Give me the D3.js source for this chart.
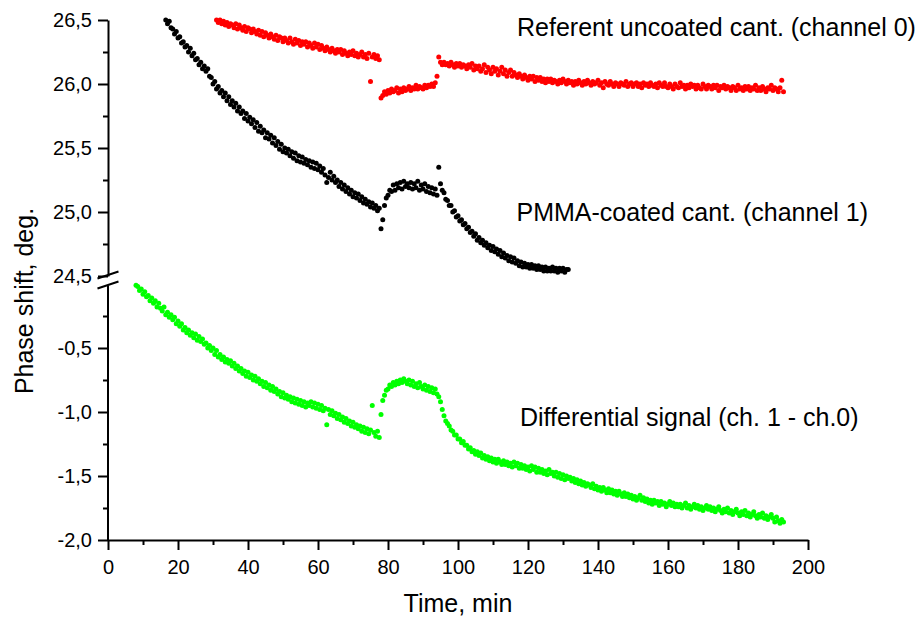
<!DOCTYPE html>
<html>
<head>
<meta charset="utf-8">
<script src="https://cdn.jsdelivr.net/npm/d3@7"></script>
<style>
  html, body { margin: 0; padding: 0; background: #fff; }
  svg { display: block; font-family: "Liberation Sans", Arial, Helvetica, sans-serif; }
</style>
</head>
<body>
<svg id="chart" width="923" height="619"></svg>
<script>
// Phase readings, one sample every 0.5 min
const SAMPLE_STEP = 0.5;

// PMMA-coated cantilever (channel 1), deg.
const ch1Start = 16.5;
const ch1Phase = [
  26.50, 26.47, 26.49, 26.44, 26.43, 26.39, 26.41, 26.36, 26.37, 26.32,
  26.33, 26.29, 26.30, 26.25, 26.28, 26.22, 26.24, 26.19, 26.20, 26.15,
  26.17, 26.12, 26.14, 26.10, 26.12, 26.06, 26.05, 26.00, 26.02, 25.96,
  25.98, 25.93, 25.95, 25.90, 25.93, 25.87, 25.90, 25.84, 25.87, 25.82,
  25.85, 25.79, 25.82, 25.77, 25.79, 25.73, 25.77, 25.71, 25.74, 25.69,
  25.72, 25.66, 25.70, 25.63, 25.67, 25.62, 25.64, 25.58, 25.62, 25.57,
  25.60, 25.54, 25.58, 25.52, 25.55, 25.49, 25.53, 25.47, 25.50, 25.46,
  25.49, 25.44, 25.47, 25.42, 25.46, 25.40, 25.44, 25.39, 25.43, 25.38,
  25.41, 25.37, 25.40, 25.35, 25.39, 25.34, 25.38, 25.33, 25.36, 25.31,
  25.34, 25.29, 25.23, 25.27, 25.31, 25.25, 25.28, 25.23, 25.25, 25.20,
  25.23, 25.18, 25.21, 25.16, 25.19, 25.14, 25.17, 25.12, 25.15, 25.11,
  25.14, 25.09, 25.12, 25.07, 25.10, 25.06, 25.08, 25.04, 25.07, 25.03,
  25.05, 25.01, 25.03, 24.87, 24.94, 25.05, 25.11, 25.13, 25.17, 25.16,
  25.21, 25.17, 25.22, 25.19, 25.23, 25.18, 25.24, 25.20, 25.22, 25.19,
  25.23, 25.18, 25.22, 25.19, 25.24, 25.17, 25.21, 25.18, 25.22, 25.16,
  25.20, 25.15, 25.19, 25.14, 25.18, 25.13, 25.35, 25.22, 25.17, 25.15,
  25.10, 25.09, 25.05, 25.05, 25.00, 25.01, 24.96, 24.97, 24.93, 24.94,
  24.90, 24.91, 24.87, 24.88, 24.84, 24.85, 24.81, 24.83, 24.78, 24.80,
  24.76, 24.78, 24.74, 24.76, 24.72, 24.74, 24.70, 24.73, 24.69, 24.71,
  24.67, 24.70, 24.65, 24.68, 24.64, 24.66, 24.62, 24.65, 24.61, 24.64,
  24.60, 24.62, 24.58, 24.61, 24.57, 24.60, 24.57, 24.59, 24.56, 24.59,
  24.56, 24.58, 24.55, 24.58, 24.55, 24.57, 24.54, 24.57, 24.54, 24.56,
  24.54, 24.57, 24.54, 24.56, 24.53, 24.56, 24.54, 24.56, 24.53, 24.55,
  24.55
];

// Referent uncoated cantilever (channel 0), deg.
const ch0Start = 31;
const ch0Phase = [
  26.50, 26.48, 26.50, 26.47, 26.49, 26.46, 26.48, 26.45, 26.47, 26.46,
  26.44, 26.47, 26.43, 26.46, 26.44, 26.42, 26.45, 26.41, 26.44, 26.43,
  26.40, 26.43, 26.41, 26.39, 26.42, 26.38, 26.41, 26.37, 26.40, 26.38,
  26.36, 26.39, 26.37, 26.35, 26.38, 26.34, 26.37, 26.36, 26.33, 26.36,
  26.34, 26.32, 26.36, 26.33, 26.31, 26.35, 26.32, 26.34, 26.30, 26.33,
  26.31, 26.33, 26.29, 26.32, 26.30, 26.28, 26.32, 26.29, 26.31, 26.27,
  26.30, 26.28, 26.26, 26.29, 26.27, 26.25, 26.28, 26.26, 26.24, 26.27,
  26.25, 26.27, 26.23, 26.26, 26.24, 26.22, 26.25, 26.23, 26.26, 26.22,
  26.24, 26.21, 26.23, 26.25, 26.21, 26.23, 26.20, 26.24, 26.02, 26.21,
  26.23, 26.20, 26.22, 26.19, 25.89, 25.91, 25.94, 25.92, 25.95, 25.93,
  25.96, 25.94, 25.95, 25.97, 25.93, 25.96, 25.94, 25.97, 25.95, 25.96,
  25.98, 25.95, 25.97, 25.96, 25.99, 25.96, 25.98, 25.97, 25.96, 25.99,
  25.97, 25.99, 25.98, 26.00, 25.98, 26.01, 26.06, 26.21, 26.17, 26.15,
  26.17, 26.15, 26.16, 26.14, 26.17, 26.15, 26.13, 26.16, 26.14, 26.16,
  26.13, 26.15, 26.14, 26.12, 26.15, 26.13, 26.16, 26.11, 26.14, 26.12,
  26.14, 26.10, 26.12, 26.15, 26.09, 26.13, 26.11, 26.08, 26.13, 26.10,
  26.12, 26.07, 26.10, 26.13, 26.08, 26.11, 26.06, 26.09, 26.11, 26.06,
  26.09, 26.07, 26.05, 26.08, 26.06, 26.04, 26.07, 26.05, 26.03, 26.06,
  26.04, 26.06, 26.02, 26.05, 26.03, 26.05, 26.02, 26.04, 26.01, 26.04,
  26.02, 26.04, 26.01, 26.03, 26.02, 26.00, 26.03, 26.01, 26.04, 26.02,
  26.00, 26.03, 26.01, 26.02, 25.99, 26.02, 26.00, 26.03, 26.01, 25.99,
  26.02, 26.00, 26.03, 26.01, 25.99, 26.02, 26.00, 26.01, 26.03, 25.99,
  26.01, 25.97, 26.02, 26.00, 25.99, 26.02, 26.00, 25.98, 26.01, 26.00,
  25.98, 26.01, 26.00, 25.99, 26.02, 25.98, 26.00, 26.01, 25.98, 26.00,
  26.01, 25.98, 26.00, 25.97, 26.01, 25.99, 26.00, 25.98, 26.01, 25.99,
  25.98, 26.00, 25.97, 26.01, 25.99, 25.98, 26.01, 25.98, 25.97, 26.00,
  25.98, 25.96, 26.00, 25.98, 25.97, 26.01, 25.98, 25.99, 25.96, 25.99,
  25.97, 26.00, 25.98, 25.99, 25.96, 25.99, 25.97, 25.96, 26.00, 25.98,
  25.96, 25.99, 25.98, 25.96, 25.99, 25.97, 25.99, 25.95, 25.98, 25.97,
  25.99, 25.96, 25.98, 25.97, 25.95, 25.98, 25.97, 25.95, 25.99, 25.96,
  25.97, 25.95, 25.98, 25.96, 25.98, 25.95, 25.97, 25.96, 25.99, 25.95,
  25.97, 25.95, 25.98, 25.96, 25.94, 25.97, 25.96, 25.99, 25.95, 25.97,
  25.96, 25.94, 25.97, 26.03, 25.94
];

// Differential signal (ch. 1 - ch. 0), deg.
const diffStart = 8;
const diffPhase = [
  -0.01, -0.02, -0.05, -0.04, -0.08, -0.06, -0.10, -0.09, -0.13, -0.11,
  -0.15, -0.13, -0.18, -0.15, -0.19, -0.21, -0.18, -0.24, -0.22, -0.26,
  -0.24, -0.28, -0.26, -0.31, -0.29, -0.33, -0.31, -0.36, -0.34, -0.38,
  -0.36, -0.40, -0.38, -0.42, -0.39, -0.44, -0.41, -0.45, -0.43, -0.47,
  -0.46, -0.50, -0.48, -0.52, -0.50, -0.55, -0.52, -0.57, -0.55, -0.59,
  -0.57, -0.61, -0.59, -0.62, -0.60, -0.64, -0.62, -0.66, -0.64, -0.68,
  -0.66, -0.70, -0.68, -0.72, -0.69, -0.73, -0.71, -0.75, -0.72, -0.76,
  -0.74, -0.78, -0.76, -0.80, -0.77, -0.81, -0.79, -0.83, -0.80, -0.84,
  -0.82, -0.86, -0.84, -0.88, -0.85, -0.89, -0.87, -0.90, -0.88, -0.92,
  -0.89, -0.93, -0.90, -0.94, -0.91, -0.95, -0.92, -0.96, -0.93, -0.95,
  -0.92, -0.96, -0.93, -0.97, -0.94, -0.98, -0.95, -0.99, -0.97, -1.10,
  -0.98, -1.02, -0.99, -1.03, -1.01, -1.05, -1.02, -1.06, -1.04, -1.08,
  -1.05, -1.09, -1.07, -1.11, -1.08, -1.12, -1.10, -1.13, -1.11, -1.15,
  -1.12, -1.16, -1.13, -1.17, -1.14, -0.95, -1.16, -1.19, -1.15, -1.20,
  -1.02, -0.91, -0.87, -0.83, -0.82, -0.79, -0.80, -0.77, -0.79, -0.76,
  -0.78, -0.75, -0.77, -0.74, -0.76, -0.78, -0.75, -0.79, -0.76, -0.80,
  -0.78, -0.81, -0.77, -0.80, -0.82, -0.79, -0.83, -0.80, -0.84, -0.81,
  -0.85, -0.82, -0.86, -0.88, -0.92, -0.98, -1.03, -1.07, -1.09, -1.11,
  -1.14, -1.15, -1.18, -1.18, -1.21, -1.21, -1.24, -1.23, -1.26, -1.26,
  -1.29, -1.28, -1.31, -1.30, -1.33, -1.31, -1.34, -1.32, -1.36, -1.34,
  -1.37, -1.35, -1.38, -1.36, -1.39, -1.37, -1.40, -1.37, -1.39, -1.41,
  -1.38, -1.41, -1.39, -1.42, -1.40, -1.43, -1.39, -1.42, -1.40, -1.44,
  -1.41, -1.44, -1.42, -1.45, -1.43, -1.46, -1.42, -1.45, -1.43, -1.47,
  -1.44, -1.47, -1.45, -1.48, -1.46, -1.49, -1.45, -1.48, -1.47, -1.50,
  -1.47, -1.51, -1.48, -1.52, -1.49, -1.53, -1.50, -1.52, -1.51, -1.54,
  -1.52, -1.55, -1.53, -1.56, -1.54, -1.57, -1.55, -1.58, -1.56, -1.57,
  -1.59, -1.56, -1.60, -1.58, -1.61, -1.59, -1.62, -1.59, -1.61, -1.63,
  -1.60, -1.63, -1.61, -1.64, -1.62, -1.65, -1.62, -1.64, -1.66, -1.63,
  -1.66, -1.64, -1.67, -1.65, -1.68, -1.66, -1.69, -1.67, -1.65, -1.69,
  -1.67, -1.70, -1.68, -1.71, -1.69, -1.72, -1.69, -1.71, -1.70, -1.73,
  -1.70, -1.72, -1.71, -1.74, -1.72, -1.70, -1.73, -1.71, -1.74, -1.72,
  -1.74, -1.72, -1.75, -1.73, -1.71, -1.75, -1.73, -1.76, -1.74, -1.72,
  -1.75, -1.73, -1.76, -1.74, -1.77, -1.75, -1.73, -1.76, -1.74, -1.77,
  -1.75, -1.78, -1.76, -1.74, -1.77, -1.79, -1.76, -1.78, -1.75, -1.79,
  -1.77, -1.80, -1.78, -1.76, -1.79, -1.81, -1.78, -1.80, -1.77, -1.81,
  -1.79, -1.82, -1.80, -1.78, -1.81, -1.83, -1.80, -1.82, -1.79, -1.83,
  -1.81, -1.84, -1.82, -1.80, -1.83, -1.86, -1.82, -1.85, -1.87, -1.84,
  -1.86
];

// Axis ticks
const timeMajor = [0, 20, 40, 60, 80, 100, 120, 140, 160, 180, 200];
const timeMinor = [10, 30, 50, 70, 90, 110, 130, 150, 170, 190];
const upperMajor = [24.5, 25.0, 25.5, 26.0, 26.5];
const upperMinor = [24.75, 25.25, 25.75, 26.25];
const lowerMajor = [-2.0, -1.5, -1.0, -0.5];
const lowerMinor = [-1.75, -1.25, -0.75, -0.25];

const FONT = '"Liberation Sans", Arial, Helvetica, sans-serif';

const svg = d3.select("#chart");

const x = d3.scaleLinear().domain([0, 200]).range([108, 808]);
// broken value axis: upper panel for the raw channels, lower for the difference
const yUp = d3.scaleLinear().domain([24.5, 26.5]).range([276, 20]);
const yLo = d3.scaleLinear().domain([-2.0, 0]).range([540, 284]);

const commaLocale = d3.formatLocale({
  decimal: ",", thousands: " ", grouping: [3], currency: ["", ""], minus: "-"
});
const fmtPhase = commaLocale.format(".1f");

function styleAxis(g, fontSize) {
  g.attr("font-family", FONT).attr("font-size", fontSize);
  g.selectAll("line, path").attr("stroke", "#000").attr("stroke-width", 2);
  g.selectAll("text").attr("fill", "#000");
}

// ---- time axis
const gx = svg.append("g").attr("transform", `translate(0,${yLo(-2.0)})`);
gx.call(d3.axisBottom(x).tickValues(timeMajor).tickSize(10).tickPadding(10)
  .tickSizeOuter(0).tickFormat(d3.format("d")));
styleAxis(gx, 20);
const gxm = svg.append("g").attr("transform", `translate(0,${yLo(-2.0)})`);
gxm.call(d3.axisBottom(x).tickValues(timeMinor).tickSize(5).tickFormat(""));
gxm.select(".domain").remove();
styleAxis(gxm, 20);

// ---- upper value axis
const axisX = x(0);
const gyU = svg.append("g").attr("transform", `translate(${axisX},0)`);
gyU.call(d3.axisLeft(yUp).tickValues(upperMajor).tickSize(10).tickPadding(6)
  .tickSizeOuter(0).tickFormat(fmtPhase));
styleAxis(gyU, 20);
const gyUm = svg.append("g").attr("transform", `translate(${axisX},0)`);
gyUm.call(d3.axisLeft(yUp).tickValues(upperMinor).tickSize(5).tickFormat(""));
gyUm.select(".domain").remove();
styleAxis(gyUm, 20);

// ---- lower value axis
const gyL = svg.append("g").attr("transform", `translate(${axisX},0)`);
gyL.call(d3.axisLeft(yLo).tickValues(lowerMajor).tickSize(10).tickPadding(6)
  .tickSizeOuter(0).tickFormat(fmtPhase));
gyL.select(".domain").remove();
gyL.append("line")
  .attr("x1", 0).attr("x2", 0)
  .attr("y1", yLo(-2.0)).attr("y2", yLo(-0.012));
styleAxis(gyL, 20);
const gyLm = svg.append("g").attr("transform", `translate(${axisX},0)`);
gyLm.call(d3.axisLeft(yLo).tickValues(lowerMinor).tickSize(5).tickFormat(""));
gyLm.select(".domain").remove();
styleAxis(gyLm, 20);

// ---- axis break marks
const breakYs = [yUp(24.5) - 1, yLo(-0.012) - 0.5];
svg.append("g").selectAll("line").data(breakYs).join("line")
  .attr("x1", axisX - 10.5).attr("y1", d => d + 3.5)
  .attr("x2", axisX + 10.5).attr("y2", d => d - 3.5)
  .attr("stroke", "#000").attr("stroke-width", 2);

// ---- data points
const seriesList = [
  { key: "ch0", start: ch0Start, values: ch0Phase, y: yUp, color: "#ff0000" },
  { key: "ch1", start: ch1Start, values: ch1Phase, y: yUp, color: "#000000" },
  { key: "diff", start: diffStart, values: diffPhase, y: yLo, color: "#00ff00" }
];

seriesList.forEach(s => {
  const pts = s.values.map((v, i) => ({ t: s.start + i * SAMPLE_STEP, v }));
  svg.append("g").attr("class", "series-" + s.key)
    .selectAll("circle").data(pts).join("circle")
    .attr("cx", d => x(d.t))
    .attr("cy", d => s.y(d.v))
    .attr("r", 2.5)
    .attr("fill", s.color);
});

// ---- curve annotations
const notes = [
  { text: "Referent uncoated cant. (channel 0)", x: 517, y: 35.5 },
  { text: "PMMA-coated cant. (channel 1)", x: 516.5, y: 220.5 },
  { text: "Differential signal (ch. 1 - ch.0)", x: 520, y: 425.5 }
];
svg.append("g").selectAll("text").data(notes).join("text")
  .attr("x", d => d.x).attr("y", d => d.y)
  .attr("font-family", FONT).attr("font-size", 25).attr("fill", "#000")
  .text(d => d.text);

// ---- axis titles
svg.append("text")
  .attr("x", (x(0) + x(200)) / 2).attr("y", 612)
  .attr("text-anchor", "middle")
  .attr("font-family", FONT).attr("font-size", 25).attr("fill", "#000")
  .text("Time, min");

svg.append("text")
  .attr("transform", "translate(33,301) rotate(-90)")
  .attr("text-anchor", "middle")
  .attr("font-family", FONT).attr("font-size", 25).attr("fill", "#000")
  .text("Phase shift, deg.");
</script>
</body>
</html>
